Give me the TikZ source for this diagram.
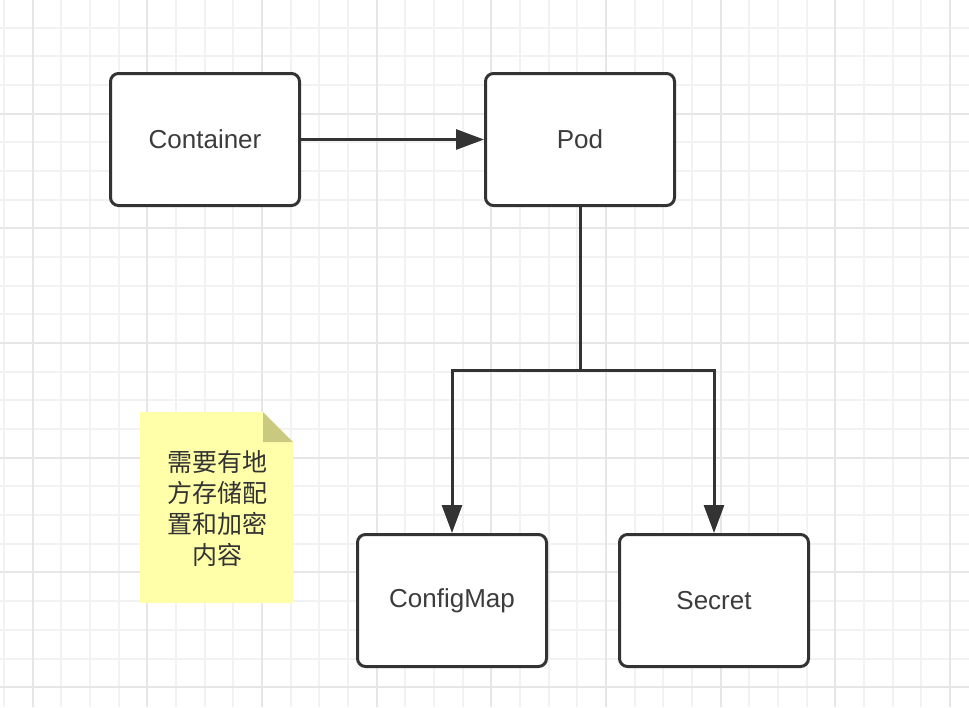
\documentclass[tikz,border=0pt]{standalone}
\usepackage{fontspec}
\setmainfont{Liberation Sans}
\newfontfamily\cjk{Noto Sans CJK SC}
\usepackage{tikz}
\usetikzlibrary{arrows.meta,positioning,calc}
\definecolor{inkgray}{HTML}{333333}
\definecolor{labelgray}{HTML}{3C3C3C}
\definecolor{gridminor}{HTML}{F2F2F2}
\definecolor{gridmajor}{HTML}{E6E6E6}
\definecolor{notefill}{RGB}{255,255,170}
\definecolor{notefold}{RGB}{201,201,128}

\begin{document}
\begin{tikzpicture}[
    x=1pt, y=-1pt,
    block/.style={rectangle, draw=inkgray, line width=3pt, fill=white, rounded corners=8pt,
                  minimum width=189pt, minimum height=132pt, text=labelgray,
                  font=\fontsize{26pt}{31pt}\selectfont},
    notetext/.style={align=center, text=inkgray, font=\cjk\fontsize{25pt}{31pt}\selectfont},
    line/.style={draw=inkgray, line width=3pt, -{Triangle[length=28pt, width=20pt]}},
    minorline/.style={draw=gridminor, line width=2pt},
    majorline/.style={draw=gridmajor, line width=2pt}
]
\useasboundingbox (0,0) rectangle (969,707);

% Grid
\begin{scope}
\clip (0,0) rectangle (969,707);
\foreach \i [evaluate=\i as \gx using round(3.9+28.67*\i)] in {0,...,33}
    \draw[minorline] (\gx,0) -- ++(0,707);
\foreach \i [evaluate=\i as \gy using round(-0.9+28.67*\i)] in {1,...,24}
    \draw[minorline] (0,\gy) -- ++(969,0);
\foreach \i [evaluate=\i as \gx using round(32.57+114.68*\i)] in {0,...,8}
    \draw[majorline] (\gx,0) -- ++(0,707);
\foreach \i [evaluate=\i as \gy using round(-0.9+114.68*\i)] in {1,...,6}
    \draw[majorline] (0,\gy) -- ++(969,0);
\end{scope}

% Note
\fill[notefill] (140,412) -- (263,412) -- (293,442) -- (293,603) -- (140,603) -- cycle;
\fill[notefold] (263,412) -- (263,442) -- (293,442) -- cycle;
\node [notetext] (note) at (217,509) {需要有地\\方存储配\\置和加密\\内容};

% Blocks
\node [block] (container) at (205,139.5) {Container};
\node [block, right=183pt of container] (pod) {Pod};
\node [block, below=326pt of pod, xshift=-128pt] (configmap) {ConfigMap};
\node [block, right=70pt of configmap] (secret) {Secret};

% Connect
\draw [line] (container) -- (pod);
\coordinate (split) at ($(pod.south)!0.5!(pod.south |- configmap.north)$);
\draw [line] (pod.south) -- (split) -| (configmap);
\draw [line] (split) -| (secret);

\end{tikzpicture}
\end{document}
